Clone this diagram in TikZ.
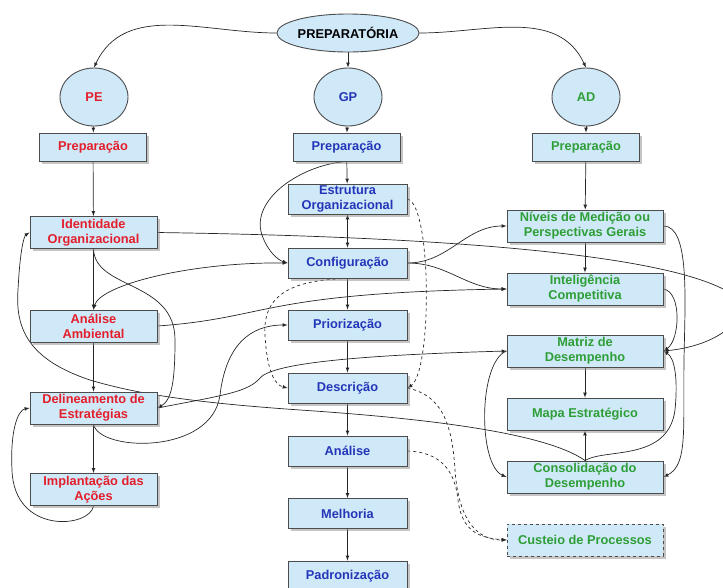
\documentclass[tikz,border=0pt]{standalone}
\usepackage{fontspec}
\setmainfont{Liberation Sans}
\usetikzlibrary{shapes.geometric,shadows,backgrounds}

\definecolor{caixaazul}{HTML}{CFE9F9}
\definecolor{pered}{HTML}{E41E2B}
\definecolor{gpblue}{HTML}{2436B8}
\definecolor{adgreen}{HTML}{2E9E36}

\tikzset{
  caixa/.style={draw=black!70, line width=0.9pt, fill=caixaazul, align=center,
    inner sep=1pt, font=\bfseries\fontsize{12.8}{15}\selectfont,
    drop shadow={shadow xshift=2.5pt, shadow yshift=-2.5pt, fill=black!45}},
  pebox/.style={caixa, text=pered, minimum width=127pt, minimum height=32pt},
  gpbox/.style={caixa, text=gpblue, minimum width=119pt, minimum height=30pt},
  adbox/.style={caixa, text=adgreen, minimum width=156pt, minimum height=32pt},
  prepbox/.style={minimum width=107pt, minimum height=28pt},
  fase/.style={ellipse, draw=black!70, line width=0.9pt, fill=caixaazul,
    inner sep=0pt, font=\bfseries\fontsize{12.8}{15}\selectfont,
    minimum width=68pt, minimum height=58pt},
  liga/.style={->, line width=0.7pt, black!85},
}

\begin{document}
\begin{tikzpicture}[x=1pt, y=1pt, >=latex]
  \useasboundingbox (0,0) rectangle (723,-587);
  % fases
  \node[fase, minimum width=118pt, minimum height=38pt] (prep) at (348,-33) {PREPARATÓRIA};
  \node[fase, text=pered] (pe) at (94,-97) {PE};
  \node[fase, text=gpblue] (gp) at (348,-97) {GP};
  \node[fase, text=adgreen] (ad) at (586,-97) {AD};
  % PE
  \node[pebox, prepbox] (peprep) at (93,-147) {Preparação};
  \node[pebox] (ident) at (93.5,-232.5) {Identidade\\Organizacional};
  \node[pebox] (amb) at (93.5,-326) {Análise\\Ambiental};
  \node[pebox] (delin) at (93.5,-408) {Delineamento de\\Estratégias};
  \node[pebox] (impl) at (93.5,-489.5) {Implantação das\\Ações};
  % GP
  \node[gpbox, prepbox] (gpprep) at (346.5,-147) {Preparação};
  \node[gpbox] (estr) at (347.5,-199) {Estrutura\\Organizacional};
  \node[gpbox] (config) at (347.5,-263) {Configuração};
  \node[gpbox] (prior) at (347.5,-325) {Priorização};
  \node[gpbox] (desc) at (347.5,-388) {Descrição};
  \node[gpbox] (anal) at (347.5,-451) {Análise};
  \node[gpbox] (melh) at (347.5,-513.5) {Melhoria};
  \node[gpbox] (padr) at (347.5,-576) {Padronização};
  % AD
  \node[adbox, prepbox] (adprep) at (586,-147) {Preparação};
  \node[adbox] (niveis) at (585,-226) {Níveis de Medição ou\\Perspectivas Gerais};
  \node[adbox] (intel) at (585,-289) {Inteligência\\Competitiva};
  \node[adbox] (matriz) at (585,-351) {Matriz de\\Desempenho};
  \node[adbox] (mapa) at (585,-414) {Mapa Estratégico};
  \node[adbox] (consol) at (585,-477) {Consolidação do\\Desempenho};
  \node[adbox, dashed] (custeio) at (585,-540) {Custeio de Processos};

  \begin{pgfonlayer}{background}
    % topo
    \draw[liga] (prep.west) to[out=180,in=65] (pe.north);
    \draw[liga] (prep.south) -- (gp.north);
    \draw[liga] (prep.east) to[out=0,in=115] (ad.north);
    % colunas
    \draw[liga] (pe) -- (peprep);
    \draw[liga] (peprep) -- (ident);
    \draw[liga] (ident) -- (amb);
    \draw[liga] (amb) -- (delin);
    \draw[liga] (delin) -- (impl);
    \draw[liga] (gp) -- (gpprep);
    \draw[liga] (gpprep) -- (estr);
    \draw[liga, <->] (estr) -- (config);
    \draw[liga] (config) -- (prior);
    \draw[liga] (prior) -- (desc);
    \draw[liga] (desc) -- (anal);
    \draw[liga] (anal) -- (melh);
    \draw[liga] (melh) -- (padr);
    \draw[liga] (ad) -- (adprep);
    \draw[liga] (adprep) -- (niveis);
    \draw[liga] (niveis) -- (intel);
    \draw[liga] (matriz) -- (mapa);
    \draw[liga] (consol) -- (mapa);
    % ligacoes entre colunas
    \draw[liga] (gpprep.south) .. controls (300,-165) and (250,-200) .. (262,-235)
      .. controls (268,-252) and (278,-260) .. (config.west);
    \draw[liga] (ident.east) .. controls (400,-236) and (650,-250) .. (725,-290)
      .. controls (760,-310) and (725,-345) .. (matriz.east);
    \draw[liga] (ident.south) .. controls (95,-290) and (175,-280) .. (175,-340)
      .. controls (175,-380) and (172,-400) .. (delin.east);
    \draw[liga] (delin.south) .. controls (100,-452) and (212,-455) .. (220,-395)
      .. controls (226,-345) and (250,-325) .. (prior.west);
    \draw[liga] (amb.east) .. controls (270,-318) and (260,-293) .. (intel.west);
    \draw[liga, <->] (amb.north) .. controls (100,-285) and (190,-262) .. (config.west);
    \draw[liga] (config.east) to[out=0,in=180] (niveis.west);
    \draw[liga] (config.east) to[out=0,in=180] (intel.west);
    \draw[liga] (niveis.east) .. controls (690,-226) and (685,-300) .. (684,-360)
      .. controls (683,-430) and (688,-465) .. (consol.east);
    \draw[liga] (intel.east) .. controls (682,-292) and (680,-340) .. (matriz.east);
    \draw[liga] (consol.north) .. controls (605,-448) and (668,-462) .. (675,-410)
      .. controls (678,-380) and (675,-358) .. (matriz.east);
    \draw[liga] (consol.north) .. controls (545,-432) and (420,-418) .. (300,-410)
      .. controls (200,-403) and (140,-395) .. (90,-380)
      .. controls (30,-360) and (15,-330) .. (18,-290)
      .. controls (20,-250) and (24,-236) .. (ident.west);
    \draw[liga] (delin.east) .. controls (225,-395) and (248,-392) .. (260,-378)
      .. controls (275,-360) and (400,-354) .. (matriz.west);
    \draw[liga] (matriz.west) .. controls (478,-362) and (478,-465) .. (consol.west);
    \draw[liga] (impl.south) .. controls (90,-528) and (14,-535) .. (12,-470)
      .. controls (10,-430) and (18,-410) .. (delin.west);
    % custeio e descricao
    \draw[liga, dashed] (estr.east) .. controls (432,-205) and (432,-372) .. (desc.east);
    \draw[liga, dashed] (config.south) .. controls (300,-280) and (262,-290) .. (265,-335)
      .. controls (267,-372) and (275,-385) .. (desc.west);
    \draw[liga, dashed] (desc.east) .. controls (440,-395) and (452,-420) .. (455,-470)
      .. controls (459,-525) and (480,-540) .. (custeio.west);
    \draw[liga, dashed] (anal.east) .. controls (440,-452) and (455,-470) .. (458,-500)
      .. controls (462,-532) and (480,-538) .. (custeio.west);
  \end{pgfonlayer}
\end{tikzpicture}
\end{document}
